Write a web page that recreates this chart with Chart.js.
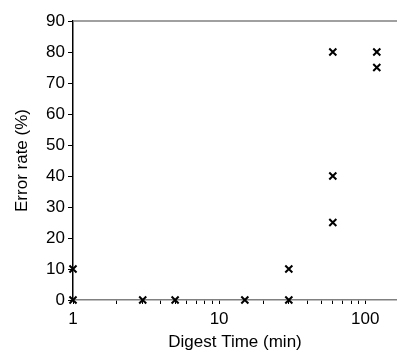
<!DOCTYPE html>
<html lang="en">
<head>
  <meta charset="UTF-8">
  <title>Error rate vs digest time</title>
  <script src="https://cdn.jsdelivr.net/npm/chart.js"></script>
  <style>
    html, body { margin: 0; padding: 0; background: #fff; }
    #wrap { width: 397px; height: 355px; }
  </style>
</head>
<body>
  <div id="wrap"><canvas id="chart"></canvas></div>
  <script>
    // digest time (min) and error rate (%) for each run
    const digestTimes = [1, 1, 3, 5, 15, 30, 30, 60, 60, 60, 120, 120];
    const errorRates = [0, 10, 0, 0, 0, 0, 10, 25, 40, 80, 75, 80];
    const xLabels = [1, 10, 100];
    const xTicks = [1, 2, 3, 4, 5, 6, 7, 8, 9, 10, 20, 30, 40, 50, 60, 70, 80, 90, 100];
    const yTicks = [0, 10, 20, 30, 40, 50, 60, 70, 80, 90];

    const points = digestTimes.map((t, i) => ({ x: t, y: errorRates[i] }));

    // thin grey frame line along the top of the plot
    const topLine = {
      id: 'topLine',
      afterDraw(chart) {
        const a = chart.chartArea;
        const ctx = chart.ctx;
        ctx.save();
        ctx.strokeStyle = '#808080';
        ctx.lineWidth = 1.5;
        ctx.beginPath();
        ctx.moveTo(a.left, a.top);
        ctx.lineTo(a.right, a.top);
        ctx.stroke();
        ctx.restore();
      }
    };

    const font = { family: '"Liberation Sans", Arial, sans-serif', size: 17 };

    new Chart(document.getElementById('chart'), {
      type: 'scatter',
      data: {
        datasets: [{
          data: points,
          pointStyle: 'crossRot',
          pointRadius: 5,
          pointHoverRadius: 5,
          borderColor: '#000',
          backgroundColor: '#000',
          borderWidth: 2,
          clip: false
        }]
      },
      options: {
        responsive: true,
        maintainAspectRatio: false,
        animation: false,
        layout: { autoPadding: false, padding: { top: 21, right: 0, left: 0, bottom: 0 } },
        plugins: { legend: { display: false }, tooltip: { enabled: false } },
        scales: {
          x: {
            type: 'logarithmic',
            min: 1,
            max: 165,
            border: { color: '#808080', width: 1.5 },
            grid: { drawOnChartArea: false, color: '#000', tickLength: 4 },
            afterBuildTicks(scale) { scale.ticks = xTicks.map(v => ({ value: v })); },
            ticks: {
              color: '#000',
              font: font,
              padding: 5,
              maxRotation: 0,
              autoSkip: false,
              callback: function (v) { return xLabels.includes(v) ? String(v) : ''; }
            },
            title: { display: true, text: 'Digest Time (min)', color: '#000', font: font, padding: { top: 3, bottom: 2 } },
            afterFit(scale) { scale.height = 55; scale.paddingRight = 0; }
          },
          y: {
            min: 0,
            max: 90,
            border: { color: '#000', width: 1.5 },
            grid: { drawOnChartArea: false, color: '#000', tickLength: 5 },
            afterBuildTicks(scale) { scale.ticks = yTicks.map(v => ({ value: v })); },
            ticks: { color: '#000', font: font, padding: 3 },
            title: { display: true, text: 'Error rate (%)', color: '#000', font: font, padding: { top: 12, bottom: 4 } },
            afterFit(scale) { scale.width = 73; }
          }
        }
      },
      plugins: [topLine]
    });
  </script>
</body>
</html>
